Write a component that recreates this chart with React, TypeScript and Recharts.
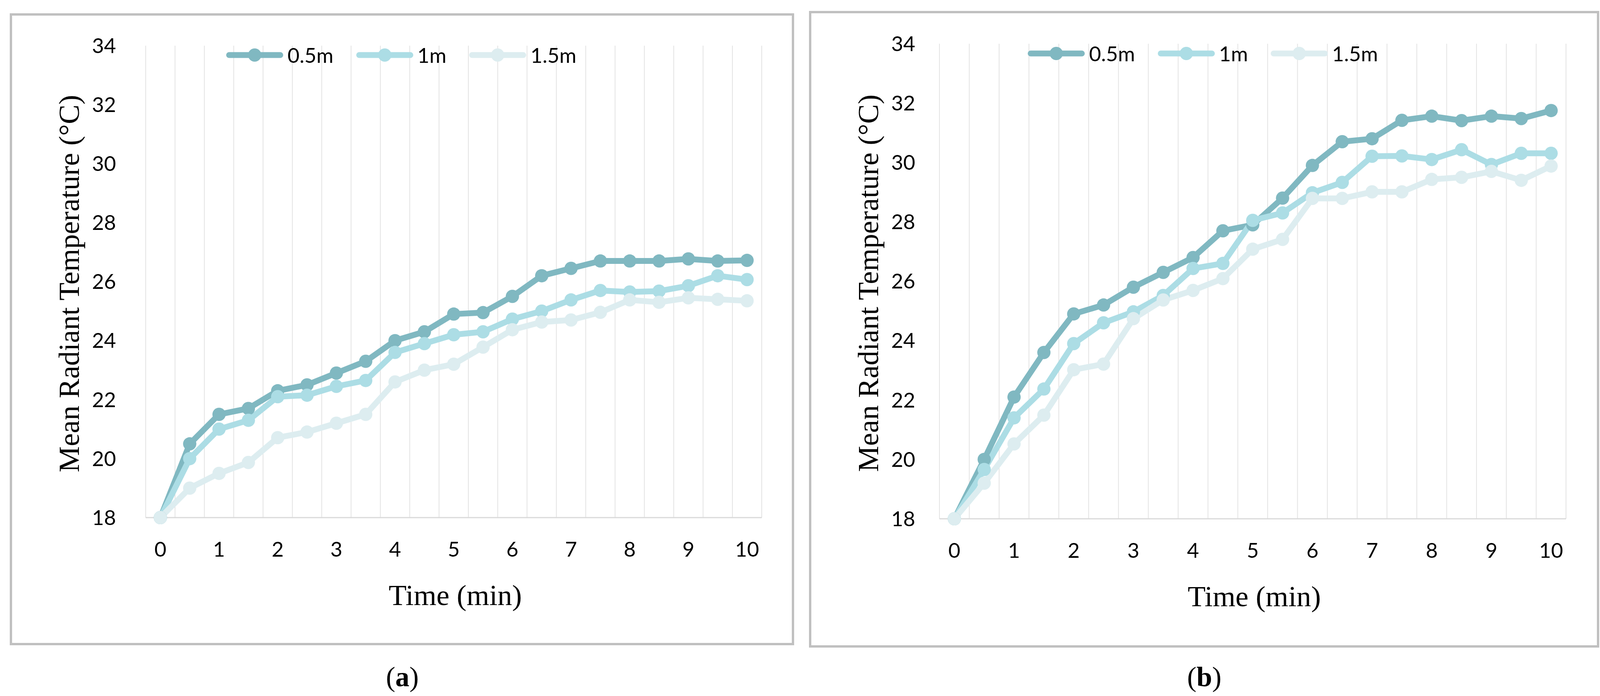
import React from "react";
import { CartesianGrid, Label, Legend, Line, LineChart, XAxis, YAxis } from "recharts";

// Time axis (minutes) – one reading every half minute
const TIMES = [0, 0.5, 1, 1.5, 2, 2.5, 3, 3.5, 4, 4.5, 5, 5.5, 6, 6.5, 7, 7.5, 8, 8.5, 9, 9.5, 10];
const X_TICKS = [0, 1, 2, 3, 4, 5, 6, 7, 8, 9, 10];
const Y_TICKS = [18, 20, 22, 24, 26, 28, 30, 32, 34];
const SERIES_NAMES = ["0.5m", "1m", "1.5m"];

// panel (a)
const A_05 = [18, 20.5, 21.5, 21.7, 22.3, 22.5, 22.9, 23.3, 24.0, 24.3, 24.9, 24.95, 25.5, 26.2, 26.45, 26.7, 26.7, 26.7, 26.77, 26.7, 26.72];
const A_1 = [18, 20.0, 21.0, 21.3, 22.1, 22.15, 22.45, 22.65, 23.6, 23.9, 24.2, 24.3, 24.73, 25.0, 25.38, 25.7, 25.65, 25.68, 25.86, 26.2, 26.07];
const A_15 = [18, 19.0, 19.5, 19.87, 20.71, 20.9, 21.2, 21.5, 22.6, 23.0, 23.2, 23.78, 24.37, 24.63, 24.7, 24.96, 25.38, 25.3, 25.45, 25.4, 25.35];

// panel (b)
const B_05 = [18, 20.0, 22.1, 23.6, 24.9, 25.2, 25.8, 26.3, 26.8, 27.7, 27.9, 28.8, 29.9, 30.7, 30.8, 31.42, 31.56, 31.41, 31.56, 31.48, 31.75];
const B_1 = [18, 19.66, 21.4, 22.37, 23.9, 24.6, 24.97, 25.52, 26.43, 26.6, 28.05, 28.3, 28.98, 29.33, 30.21, 30.22, 30.1, 30.43, 29.93, 30.31, 30.31];
const B_15 = [18, 19.2, 20.52, 21.49, 23.02, 23.21, 24.74, 25.37, 25.69, 26.09, 27.08, 27.41, 28.79, 28.79, 29.01, 29.01, 29.43, 29.5, 29.7, 29.4, 29.88];

const COLORS = ["#80b8c1", "#acdde5", "#ddedf0"];
const SANS = "Lato, 'Open Sans', sans-serif";
const SERIF = "'Liberation Serif', 'Times New Roman', serif";
const TICK_FONT = 53;
const TITLE_FONT = 75;

function buildRows(s05: number[], s1: number[], s15: number[]) {
  return TIMES.map((t, i) => ({ t, s05: s05[i], s1: s1[i], s15: s15[i] }));
}

// Excel-style category gridlines sit between the points, not on them
const X_DOMAIN: [number, number] = [-0.25, 10.25];
const GRID_BOUNDS = [...TIMES.map((t) => t - 0.25), 10.25];

type PanelConfig = {
  rows: ReturnType<typeof buildRows>;
  chartLeft: number;
  width: number;
  height: number;
  margin: { top: number; right: number; bottom: number; left: number };
  yTickGap: number;
  yTitleOffset: number;
  legendLeft: number;
  legendTop: number;
  border: { left: number; top: number; width: number; height: number };
  caption: string;
  captionX: number;
};

const PANELS: PanelConfig[] = [
  {
    rows: buildRows(A_05, A_1, A_15),
    chartLeft: 0,
    width: 2060,
    height: 1700,
    margin: { top: 117, right: 110, bottom: 224, left: 223 },
    yTickGap: 76,
    yTitleOffset: 47,
    legendLeft: 579,
    legendTop: 116,
    border: { left: 25, top: 34, width: 2008, height: 1619 },
    caption: "a",
    captionX: 1030,
  },
  {
    rows: buildRows(B_05, B_1, B_15),
    chartLeft: 2060,
    width: 2057,
    height: 1700,
    margin: { top: 112, right: 108, bottom: 221, left: 195 },
    yTickGap: 62,
    yTitleOffset: 33,
    legendLeft: 571,
    legendTop: 112,
    border: { left: 2071, top: 28, width: 2023, height: 1631 },
    caption: "b",
    captionX: 3083,
  },
];

function LegendContent({ payload }: { payload?: any[] }) {
  const items = (payload ?? [])
    .slice()
    .sort((a, b) => SERIES_NAMES.indexOf(a.value) - SERIES_NAMES.indexOf(b.value));
  return (
    <div style={{ display: "flex", alignItems: "center", height: 50, fontFamily: SANS, fontSize: TICK_FONT, color: "#000" }}>
      {items.map((p) => (
        <div key={p.value} style={{ display: "flex", alignItems: "center", marginRight: 58 }}>
          <svg width={146} height={40} style={{ display: "block" }}>
            <line x1={7.5} x2={138.5} y1={20} y2={20} stroke={p.color} strokeWidth={15} strokeLinecap="round" />
            <circle cx={73} cy={20} r={17} fill={p.color} />
          </svg>
          <span style={{ marginLeft: 11, lineHeight: "50px", whiteSpace: "nowrap" }}>{p.value}</span>
        </div>
      ))}
    </div>
  );
}

function Panel({ cfg }: { cfg: PanelConfig }) {
  const keys = ["s05", "s1", "s15"];
  return (
    <div style={{ position: "absolute", left: cfg.chartLeft, top: 0, width: cfg.width, height: cfg.height }}>
      <LineChart width={cfg.width} height={cfg.height} data={cfg.rows} margin={cfg.margin}>
        <CartesianGrid
          horizontal={false}
          stroke="#e3e3e3"
          strokeWidth={2}
          verticalCoordinatesGenerator={({ offset }: any) =>
            GRID_BOUNDS.map((b) => offset.left + ((b - X_DOMAIN[0]) / (X_DOMAIN[1] - X_DOMAIN[0])) * offset.width)
          }
        />
        <XAxis
          type="number"
          dataKey="t"
          domain={X_DOMAIN}
          ticks={X_TICKS}
          interval={0}
          height={150}
          tickSize={0}
          tickMargin={62}
          tickLine={false}
          axisLine={{ stroke: "#d9d9d9", strokeWidth: 3 }}
          tick={{ fontSize: TICK_FONT, fontFamily: SANS, fill: "#000" }}
        >
          <Label
            content={({ viewBox }: any) => (
              <text
                x={viewBox.x + viewBox.width / 2 + 4}
                y={viewBox.y + 198}
                textAnchor="middle"
                dominantBaseline="central"
                fontFamily={SERIF}
                fontSize={TITLE_FONT}
                fill="#000"
              >
                Time (min)
              </text>
            )}
          />
        </XAxis>
        <YAxis
          type="number"
          domain={[18, 34]}
          ticks={Y_TICKS}
          interval={0}
          width={150}
          tickSize={0}
          tickMargin={cfg.yTickGap}
          tickLine={false}
          axisLine={false}
          tick={{ fontSize: TICK_FONT, fontFamily: SANS, fill: "#000" }}
        >
          <Label
            content={({ viewBox }: any) => {
              const x = viewBox.x - cfg.yTitleOffset;
              const y = viewBox.y + viewBox.height / 2 + 5;
              return (
                <text
                  x={x}
                  y={y}
                  transform={`rotate(-90, ${x}, ${y})`}
                  textAnchor="middle"
                  dominantBaseline="central"
                  fontFamily={SERIF}
                  fontSize={TITLE_FONT}
                  fill="#000"
                >
                  Mean Radiant Temperature (°C)
                </text>
              );
            }}
          />
        </YAxis>
        <Legend
          verticalAlign="middle"
          align="center"
          layout="horizontal"
          content={(props: any) => <LegendContent payload={props.payload} />}
          wrapperStyle={{ left: cfg.legendLeft, top: cfg.legendTop, width: 1100, height: 50 }}
        />
        {keys.map((k, i) => (
          <Line
            key={k}
            type="linear"
            dataKey={k}
            name={SERIES_NAMES[i]}
            stroke={COLORS[i]}
            strokeWidth={15}
            strokeLinejoin="round"
            strokeLinecap="round"
            dot={{ r: 17, fill: COLORS[i], stroke: COLORS[i], strokeWidth: 0 }}
            activeDot={false}
            isAnimationActive={false}
          />
        ))}
      </LineChart>
    </div>
  );
}

export default function App() {
  return (
    <div style={{ position: "absolute", left: 0, top: 0, width: 4117, height: 1783, background: "#fff", overflow: "hidden" }}>
      {PANELS.map((cfg) => (
        <div
          key={cfg.caption + "-border"}
          style={{
            position: "absolute",
            left: cfg.border.left,
            top: cfg.border.top,
            width: cfg.border.width,
            height: cfg.border.height,
            border: "6px solid #c0c0c0",
            boxSizing: "border-box",
          }}
        />
      ))}
      {PANELS.map((cfg) => (
        <Panel key={cfg.caption} cfg={cfg} />
      ))}
      <svg width={4117} height={1783} style={{ position: "absolute", left: 0, top: 0, pointerEvents: "none" }}>
        {PANELS.map((cfg) => (
          <text
            key={cfg.caption + "-cap"}
            x={cfg.captionX}
            y={1734}
            textAnchor="middle"
            dominantBaseline="central"
            fontFamily={SERIF}
            fontSize={72}
            fill="#000"
          >
            (<tspan fontWeight="bold">{cfg.caption}</tspan>)
          </text>
        ))}
      </svg>
    </div>
  );
}
